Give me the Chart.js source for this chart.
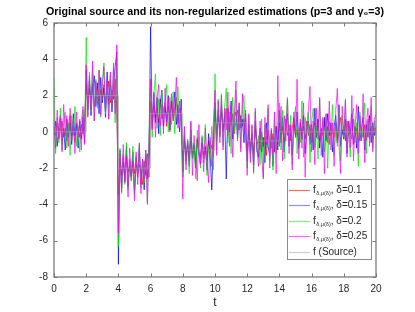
<!DOCTYPE html>
<html>
<head>
<meta charset="utf-8">
<script src="https://cdn.jsdelivr.net/npm/chart.js@4"></script>
<style>
  html, body { margin: 0; padding: 0; background: #ffffff; }
  #wrap { width: 415px; height: 312px; }
</style>
</head>
<body>
<div id="wrap"><canvas id="estChart"></canvas></div>
<script>
// Original source and its non-regularized estimations
// samples every 0.1 on [0, 20]
const dt = 0.1;

// piecewise-constant source: level holds from sourceT[i] to sourceT[i+1]
const sourceT = [0, 2, 4, 6, 8, 10, 12, 14, 20];
const sourceLevel = [0, 2, -2, 1, -1, 0.5, -0.5, 0, 0];

const est010 = [
    0.3,-0.2,0.5,-0.4,0.1,0.6,-0.3,0.2,-0.5,0.4,0.9,-0.2,0.3,-0.6,0.5,0.1,-0.3,0.4,-0.1,0.6,
    2.6,1.5,2.4,1.8,2.7,1.4,2.2,2.5,1.7,2.3,1.9,2.6,1.5,2.1,2.8,1.6,2.3,1.8,2.9,1.3,
    -3.5,-1.5,-2.4,-1.7,-2.6,-1.3,-2.2,-1.9,-2.7,-1.6,-2.3,-1.4,-2.5,-1.8,-2.1,-2.9,-1.6,-2.4,-1.2,-2.5,
    1.7,0.4,1.5,0.8,1.3,0.5,1.8,0.7,1.2,1.6,0.3,1.4,0.9,1.7,0.6,1.1,1.9,0.5,1.3,0.8,
    -1.6,-0.4,-1.3,-0.7,-1.5,-0.5,-1.2,-0.8,-1.7,-0.3,-1.1,-1.4,-0.6,-1.3,-0.9,-1.6,-0.5,-1.2,-0.7,-1.4,
    1.2,-0.1,0.9,0.2,1.1,0.0,0.7,1.3,-0.2,0.8,0.4,1.0,-0.1,0.6,1.2,0.1,0.9,0.3,0.7,-0.2,
    -1.1,0.1,-0.9,-0.2,-1.2,0.2,-0.7,-0.4,-1.0,0.0,-0.8,-0.3,-1.3,0.1,-0.6,-0.9,-0.1,-1.1,0.3,-0.7,
    0.5,-0.4,0.3,-0.6,0.7,-0.2,0.4,-0.5,0.2,0.8,-0.3,0.1,-0.7,0.5,-0.1,0.3,-0.4,0.6,-0.2,0.4,
    -0.6,0.2,0.5,-0.3,0.7,-0.5,0.1,-0.2,0.6,-0.4,0.3,-0.7,0.4,0.0,-0.3,0.5,-0.6,0.2,0.8,-0.1,
    0.3,-0.5,0.6,-0.2,0.1,-0.4,0.7,-0.3,0.2,-0.6,0.5,0.0,-0.3,0.4,-0.5,0.6,-0.2,0.3,-0.4,0.2,0.1
];

const est015 = [
    -0.4,0.6,-0.8,0.3,0.9,-0.5,0.2,-1.0,0.7,-0.3,0.5,-0.7,1.0,-0.2,0.4,-0.9,0.6,-0.4,0.8,-0.6,
    3.4,1.2,2.8,0.9,2.5,3.1,1.4,2.7,1.0,3.0,1.6,2.4,0.8,3.3,1.5,2.9,1.1,2.6,3.6,4.4,
    -7.3,-1.0,-3.1,-1.4,-2.7,-0.8,-3.0,-1.6,-2.5,-1.1,-3.3,-1.8,-2.2,-0.9,-2.9,-1.5,-3.2,-1.2,-2.6,-1.0,
    5.8,0.2,2.1,0.5,1.9,-0.1,1.6,2.3,0.3,1.4,0.6,2.0,0.1,1.7,0.9,2.2,0.4,1.5,0.0,1.8,
    -2.2,-0.2,-1.6,-0.5,-1.9,0.1,-1.4,-0.7,-2.0,-0.4,-1.2,-1.8,-0.3,-1.5,-0.8,-2.1,-0.1,-1.3,-3.2,-0.6,
    1.6,-0.5,1.2,-0.2,1.5,0.1,0.9,-2.6,1.3,0.0,1.7,-0.4,0.8,1.1,-0.3,1.4,0.2,0.7,-0.6,1.0,
    -1.6,0.4,-1.2,-0.1,-1.8,0.6,-0.9,-1.4,0.2,-1.1,-0.3,-1.7,0.5,-0.8,-1.3,0.1,-1.9,-0.4,0.3,-1.0,
    1.2,-0.6,0.8,-1.1,0.4,1.0,-0.8,0.3,-1.3,0.7,-0.2,1.1,-0.9,0.5,-0.4,0.9,-1.2,0.2,0.6,-0.7,
    0.4,-1.0,1.3,-0.3,0.7,-0.9,0.2,-1.4,0.8,-0.5,1.0,-0.2,0.5,-1.1,0.3,0.9,-0.6,1.5,-0.8,0.1,
    -0.4,0.7,-1.2,0.6,-0.1,1.0,-0.7,0.3,-0.9,1.4,-0.5,0.2,0.8,-1.0,0.4,-0.3,0.9,-0.6,0.5,-0.2,0.3
];

const est020 = [
    3.0,-1.2,0.8,-0.6,1.3,-1.0,0.5,1.1,-0.9,0.4,-1.3,0.9,-0.2,1.4,-0.8,0.3,-1.1,0.7,1.2,-0.5,
    5.2,0.9,3.3,1.1,3.6,0.6,2.9,1.3,3.4,0.8,2.7,3.8,1.0,2.5,0.7,3.1,1.4,3.5,0.5,4.1,
    -6.3,-0.9,-3.4,-1.2,-2.9,-0.6,-3.2,-1.5,-2.6,-0.8,-3.5,-1.3,-2.3,-0.7,-3.1,-1.6,-2.8,-1.0,-3.9,-0.5,
    2.4,-0.3,2.0,3.2,0.2,1.8,-0.2,2.3,0.6,1.5,2.6,0.0,1.9,0.4,2.2,-0.1,1.6,2.5,0.3,1.2,
    -2.5,0.2,-1.8,-0.4,-2.3,0.5,-1.5,-0.6,-2.6,0.1,-1.2,-2.0,-0.2,-1.7,0.4,-2.4,-0.8,-1.4,0.3,-2.1,
    3.2,-1.0,1.8,-0.3,2.1,-0.8,1.4,2.4,-0.6,1.1,-1.2,1.9,0.0,2.3,-0.5,1.6,-0.9,1.2,2.0,-0.4,
    -2.0,0.9,-1.5,0.3,-2.3,1.1,-1.1,-0.2,-1.8,0.7,-2.5,0.4,-0.9,1.3,-1.6,-0.1,-2.1,0.8,-1.2,0.2,
    1.6,-1.0,1.2,-1.5,0.6,1.9,-0.7,0.9,-1.8,0.4,1.4,-1.2,0.2,-0.6,1.7,-1.4,0.8,-0.3,1.1,-1.7,
    0.5,1.3,-0.9,0.3,-1.5,1.8,-0.4,0.7,-1.1,1.0,-2.0,0.6,-0.2,1.5,-1.3,0.4,-0.8,1.2,-1.6,0.9,
    -0.3,1.7,-1.0,0.2,-1.4,0.8,1.3,-0.6,0.5,-1.9,1.1,-0.5,0.3,1.6,-1.2,0.7,-0.4,1.4,-0.9,0.6,-0.2
];

const est025 = [
    0.5,-0.9,1.2,-0.4,0.8,-1.1,1.5,-0.2,0.9,-0.8,1.3,-0.5,0.6,-1.2,1.1,-0.3,0.7,-1.0,1.4,-0.7,
    3.7,0.8,3.1,1.2,3.9,0.6,2.8,1.5,3.4,0.9,2.5,3.6,1.1,2.9,0.7,3.3,1.4,3.8,1.0,4.8,
    -5.6,-1.2,-3.3,-0.7,-2.8,-1.4,-3.6,-0.9,-2.4,-1.7,-3.8,-1.1,-2.9,-0.6,-3.4,-1.5,-2.6,-1.0,-4.0,-0.8,
    2.9,0.1,2.2,-0.3,1.8,2.6,0.3,1.5,-0.1,2.4,0.5,1.9,0.0,2.1,0.7,1.4,3.0,0.2,1.7,0.6,
    -3.7,0.3,-2.1,-0.5,-1.6,0.6,-2.4,-0.2,-1.3,-2.7,0.4,-1.8,-0.6,-2.2,0.2,-1.5,-2.8,-0.3,-1.9,0.5,
    2.3,-1.3,1.7,-0.6,2.0,-1.0,1.3,0.1,2.2,-0.8,1.5,-1.4,0.9,2.8,-0.4,1.6,-1.1,2.1,0.0,1.2,
    -2.4,1.0,-1.7,0.4,-2.2,1.3,-0.9,-1.9,0.6,-1.4,-2.6,0.8,-0.7,1.5,-2.0,0.2,-1.2,1.1,-2.3,3.1,
    -0.8,1.4,-1.6,0.9,-0.5,1.8,-1.2,0.4,-2.1,1.1,-0.3,2.9,-1.5,0.7,-0.9,1.6,-2.5,0.3,1.2,2.5,
    -1.1,0.6,-1.8,1.3,-0.4,1.9,-1.3,0.8,-2.3,1.0,-0.6,1.7,-1.0,0.5,-1.9,1.2,2.4,-0.7,-2.3,1.4,
    -0.2,1.8,-1.4,0.6,-0.9,2.0,-1.6,0.3,1.5,-1.2,0.9,-0.5,2.1,-1.7,0.4,1.3,-0.8,1.9,-1.1,0.7,1.0
];

const deltas = ['0.1', '0.15', '0.2', '0.25'];
const xTicks = [0, 2, 4, 6, 8, 10, 12, 14, 16, 18, 20];
const yTicks = [-8, -6, -4, -2, 0, 2, 4, 6];
const titleText = 'Original source and its non-regularized estimations (p=3 and γ₀=3)';

const seriesColors = ['rgba(255,0,0,0.7)', 'rgba(0,0,255,0.7)', 'rgba(0,230,0,0.7)', 'rgba(255,0,255,0.7)'];
const legendColors = ['#ff6a6a', '#8c8cff', '#7cf27c', '#ff66ff', '#cfcfcf'];

const FONT = "'Liberation Sans', Arial, sans-serif";
const TEXT = '#262626';

const toPoints = arr => arr.map((v, i) => ({ x: Math.round(i * dt * 10) / 10, y: v }));

// title centred over the plot box, like the original figure
const boxTitle = {
    id: 'boxTitle',
    afterDraw(chart) {
        const { ctx, chartArea: a } = chart;
        ctx.save();
        ctx.fillStyle = '#000000';
        ctx.font = 'bold 10.7px ' + FONT;
        ctx.textAlign = 'center';
        ctx.textBaseline = 'middle';
        ctx.fillText(titleText, (a.left + a.right) / 2, 12);
        ctx.restore();
    }
};

// MATLAB-like box with inward ticks on all four sides
const boxAxes = {
    id: 'boxAxes',
    afterDatasetsDraw(chart) {
        const { ctx, chartArea: a, scales } = chart;
        ctx.save();
        ctx.strokeStyle = '#7a7a7a';
        ctx.lineWidth = 1;
        ctx.beginPath();
        xTicks.forEach(t => {
            const px = Math.round(scales.x.getPixelForValue(t)) + 0.5;
            ctx.moveTo(px, a.bottom); ctx.lineTo(px, a.bottom - 3.5);
            ctx.moveTo(px, a.top); ctx.lineTo(px, a.top + 3.5);
        });
        yTicks.forEach(t => {
            const py = Math.round(scales.y.getPixelForValue(t)) + 0.5;
            ctx.moveTo(a.left, py); ctx.lineTo(a.left + 3.5, py);
            ctx.moveTo(a.right, py); ctx.lineTo(a.right - 3.5, py);
        });
        ctx.stroke();
        ctx.lineWidth = 1.3;
        ctx.strokeRect(a.left, a.top, a.right - a.left, a.bottom - a.top);
        ctx.restore();
    }
};

// legend with subscripted labels, drawn inside the lower right corner
const subLegend = {
    id: 'subLegend',
    afterDraw(chart) {
        const { ctx, chartArea: a } = chart;
        const w = 84, h = 80;
        const x0 = a.right - 5 - w, y0 = a.bottom - 18 - h;
        ctx.save();
        ctx.fillStyle = '#ffffff';
        ctx.fillRect(x0, y0, w, h);
        ctx.strokeStyle = '#8a8a8a';
        ctx.lineWidth = 1;
        ctx.strokeRect(x0 + 0.5, y0 + 0.5, w, h);
        ctx.textBaseline = 'middle';
        ctx.lineWidth = 1.2;
        for (let i = 0; i < 5; i++) {
            const cy = Math.round(y0 + 10.5 + i * 15.5) + 0.5;
            ctx.strokeStyle = legendColors[i];
            ctx.beginPath();
            ctx.moveTo(x0 + 2, cy); ctx.lineTo(x0 + 23, cy);
            ctx.stroke();
            ctx.fillStyle = TEXT;
            let tx = x0 + 26;
            ctx.font = '10px ' + FONT;
            if (i < 4) {
                ctx.fillText('f', tx, cy);
                tx += ctx.measureText('f').width + 0.5;
                ctx.font = '5.5px ' + FONT;
                ctx.fillText('δ,μ(δ)', tx, cy + 3);
                tx += ctx.measureText('δ,μ(δ)').width;
                ctx.font = '10px ' + FONT;
                ctx.fillText(', δ=' + deltas[i], tx, cy);
            } else {
                ctx.fillText('f (Source)', tx, cy);
            }
        }
        ctx.restore();
    }
};

const datasets = [est010, est015, est020, est025].map((arr, i) => ({
    label: 'f δ=' + deltas[i],
    data: toPoints(arr),
    borderColor: seriesColors[i],
    borderWidth: 1,
    order: 4 - i
}));
datasets.push({
    label: 'f (Source)',
    data: sourceT.map((t, i) => ({ x: t, y: sourceLevel[i] })),
    borderColor: 'rgba(160,160,160,0.7)',
    borderWidth: 1,
    stepped: true,
    order: 0
});

new Chart(document.getElementById('estChart'), {
    type: 'line',
    data: { datasets: datasets },
    options: {
        responsive: true,
        maintainAspectRatio: false,
        animation: false,
        events: [],
        layout: { padding: { left: 0, right: 39, top: 23, bottom: 0 } },
        elements: {
            point: { radius: 0 },
            line: { tension: 0, fill: false }
        },
        plugins: {
            legend: { display: false },
            tooltip: { enabled: false },
            title: { display: false }
        },
        scales: {
            x: {
                type: 'linear',
                min: 0,
                max: 20,
                afterFit: s => { s.height = 35; },
                afterBuildTicks: s => { s.ticks = xTicks.map(v => ({ value: v })); },
                grid: { display: false, drawTicks: false },
                border: { display: false },
                ticks: { color: TEXT, font: { family: FONT, size: 10 }, padding: 6, maxRotation: 0 },
                title: { display: true, text: 't', color: TEXT, font: { family: FONT, size: 12 }, padding: { top: 0, bottom: 2 } }
            },
            y: {
                type: 'linear',
                min: -8,
                max: 6,
                afterFit: s => { s.width = 54; },
                afterBuildTicks: s => { s.ticks = yTicks.map(v => ({ value: v })); },
                grid: { display: false, drawTicks: false },
                border: { display: false },
                ticks: { color: TEXT, font: { family: FONT, size: 10 }, padding: 6 }
            }
        }
    },
    plugins: [boxAxes, subLegend, boxTitle]
});
</script>
</body>
</html>
